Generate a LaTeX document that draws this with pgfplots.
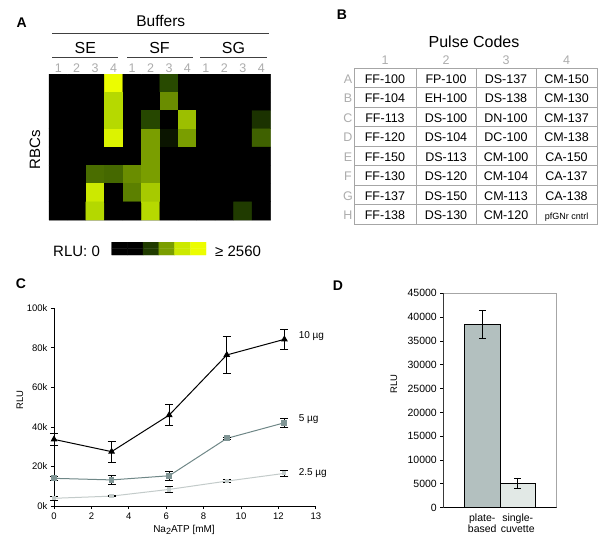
\documentclass[border=0pt]{standalone}
\usepackage{pgfplots}
\pgfplotsset{compat=1.18}
\usepackage{fontspec}
\setmainfont{Liberation Sans}
\newcommand{\fsz}[1]{\fontsize{#1bp}{#1bp}\selectfont}

\definecolor{lab}{HTML}{ACACAC}
\definecolor{tabline}{HTML}{A6A6A6}
\definecolor{ug5}{HTML}{6F8787}
\definecolor{ug5m}{HTML}{809595}
\definecolor{ug25}{HTML}{C3CBCA}
\definecolor{barA}{HTML}{B3C0BF}
\definecolor{barB}{HTML}{E2E9E6}

\pgfplotsset{
  colormap={rlu}{rgb255=(0,0,0) rgb255=(40,74,0) rgb255=(122,158,0) rgb255=(190,225,0) rgb255=(240,255,0)},
  /pgf/number format/assume math mode=true,
}

\begin{document}
\begin{tikzpicture}
\useasboundingbox (0,0) rectangle (600bp,-543bp);

%% ---------- panel A: heatmap ----------
\node[font=\bfseries\fsz{14}] at (21.7bp,-22.5bp) {A};
\node[font=\fsz{15.5}] at (160.8bp,-21bp) {Buffers};
\draw[black!75, line width=1bp] (52bp,-33bp) -- (269bp,-33bp);
\node[font=\fsz{16}] at (85.3bp,-48bp) {SE};
\node[font=\fsz{16}] at (159.5bp,-48bp) {SF};
\node[font=\fsz{16}] at (233.5bp,-48bp) {SG};
\draw[black!75, line width=1bp] (52bp,-57bp) -- (118bp,-57bp);
\draw[black!75, line width=1bp] (127bp,-57bp) -- (193bp,-57bp);
\draw[black!75, line width=1bp] (200bp,-57bp) -- (267bp,-57bp);
\node[rotate=90, font=\fsz{15}] at (35bp,-150bp) {RBCs};

\begin{axis}[at={(49bp,-74bp)}, anchor=north west, scale only axis,
  width=221.5bp, height=146bp,
  xmin=0.5, xmax=12.5, ymin=0.5, ymax=8.5,
  axis background/.style={fill=black},
  axis line style={draw=gray!55},
  ytick=\empty, xtick={1,...,12},
  xticklabels={1,2,3,4,1,2,3,4,1,2,3,4},
  xticklabel pos=top, major tick length=0pt,
  xticklabel style={font=\fsz{12.5}, text=lab, inner sep=1.5bp},
  colormap name=rlu, point meta min=0, point meta max=1]
\addplot[matrix plot*, mesh/cols=12, point meta=explicit, draw=none] coordinates {
(1,8)[0] (2,8)[0] (3,8)[0] (4,8)[0.98] (5,8)[0] (6,8)[0] (7,8)[0.25] (8,8)[0] (9,8)[0] (10,8)[0] (11,8)[0] (12,8)[0]
(1,7)[0] (2,7)[0] (3,7)[0] (4,7)[0.72] (5,7)[0] (6,7)[0] (7,7)[0.45] (8,7)[0] (9,7)[0] (10,7)[0] (11,7)[0] (12,7)[0]
(1,6)[0] (2,6)[0] (3,6)[0] (4,6)[0.72] (5,6)[0] (6,6)[0.24] (7,6)[0] (8,6)[0.625] (9,6)[0] (10,6)[0] (11,6)[0] (12,6)[0.17]
(1,5)[0] (2,5)[0] (3,5)[0] (4,5)[0.9] (5,5)[0] (6,5)[0.5] (7,5)[0.07] (8,5)[0.5] (9,5)[0] (10,5)[0] (11,5)[0] (12,5)[0.32]
(1,4)[0] (2,4)[0] (3,4)[0] (4,4)[0] (5,4)[0] (6,4)[0.5] (7,4)[0] (8,4)[0] (9,4)[0] (10,4)[0] (11,4)[0] (12,4)[0]
(1,3)[0] (2,3)[0] (3,3)[0.355] (4,3)[0.34] (5,3)[0.45] (6,3)[0.5] (7,3)[0] (8,3)[0] (9,3)[0] (10,3)[0] (11,3)[0] (12,3)[0]
(1,2)[0] (2,2)[0] (3,2)[0.82] (4,2)[0] (5,2)[0.41] (6,2)[0.665] (7,2)[0] (8,2)[0] (9,2)[0] (10,2)[0] (11,2)[0] (12,2)[0]
(1,1)[0] (2,1)[0] (3,1)[0.715] (4,1)[0] (5,1)[0] (6,1)[0.72] (7,1)[0] (8,1)[0] (9,1)[0] (10,1)[0] (11,1)[0.2] (12,1)[0]
};
\end{axis}

%% colour key
\node[anchor=base west, inner sep=0, font=\fsz{15}] at (53bp,-256bp) {RLU: 0};
\node[anchor=base west, inner sep=0, font=\fsz{15}] at (215bp,-256bp) {≥ 2560};
\begin{axis}[at={(111.7bp,-242bp)}, anchor=north west, scale only axis,
  width=94.3bp, height=13bp, xmin=0.5, xmax=6.5, ymin=0.5, ymax=2.5,
  hide axis, colormap name=rlu, point meta min=0, point meta max=1]
\addplot[matrix plot*, mesh/cols=6, point meta=explicit, draw=none] coordinates {
(1,1)[0] (2,1)[0] (3,1)[0.2] (4,1)[0.5] (5,1)[0.82] (6,1)[0.98]
(1,2)[0] (2,2)[0] (3,2)[0.2] (4,2)[0.5] (5,2)[0.82] (6,2)[0.98]
};
\end{axis}

%% ---------- panel B: pulse code table ----------
\node[font=\bfseries\fsz{14}] at (342bp,-14.7bp) {B};
\node[font=\fsz{16}] at (474bp,-42bp) {Pulse Codes};
\foreach \n/\x in {1/385,2/446,3/506,4/566.5}
  \node[text=lab, font=\fsz{12.5}] at (\x bp,-60.5bp) {\n};
\draw[tabline, line width=0.8bp] (354bp,-68bp) rectangle (597bp,-224bp);
\foreach \yy in {87.5,107,126.5,146,165.5,185,204.5}
  \draw[tabline, line width=0.8bp] (354bp,-\yy bp) -- (597bp,-\yy bp);
\foreach \xx in {416,476,536}
  \draw[tabline, line width=0.8bp] (\xx bp,-68bp) -- (\xx bp,-224bp);
\foreach \r/\a/\b/\c/\d [count=\i from 0] in {
  A/FF-100/FP-100/DS-137/CM-150,
  B/FF-104/EH-100/DS-138/CM-130,
  C/FF-113/DS-100/DN-100/CM-137,
  D/FF-120/DS-104/DC-100/CM-138,
  E/FF-150/DS-113/CM-100/CA-150,
  F/FF-130/DS-120/CM-104/CA-137,
  G/FF-137/DS-150/CM-113/CA-138,
  H/FF-138/DS-130/CM-120/{\fsz{9}pfGNr cntrl}}{
  \pgfmathsetmacro{\yb}{68+19.5*\i+9.75+5.5}
  \node[anchor=base, inner sep=0, text=lab, font=\fsz{12.5}] at (348bp,-\yb bp) {\r};
  \node[anchor=base, inner sep=0, font=\fsz{12.5}] at (385bp,-\yb bp) {\a};
  \node[anchor=base, inner sep=0, font=\fsz{12.5}] at (446bp,-\yb bp) {\b};
  \node[anchor=base, inner sep=0, font=\fsz{12.5}] at (506bp,-\yb bp) {\c};
  \node[anchor=base, inner sep=0, font=\fsz{12.5}] at (566.5bp,-\yb bp) {\d};
}

%% ---------- panel C: RLU vs Na2ATP ----------
\node[font=\bfseries\fsz{14}] at (21bp,-284bp) {C};
\node[font=\fsz{10}] at (184bp,-530bp) {Na\raisebox{-0.35ex}{\fsz{9}2}ATP [mM]};
\node[rotate=90, font=\fsz{9.5}] at (20bp,-400bp) {RLU};
\begin{axis}[at={(54bp,-506bp)}, anchor=south west, scale only axis,
  width=261.8bp, height=197.7bp,
  xmin=0, xmax=14, ymin=0, ymax=100000,
  axis x line*=bottom, axis y line*=left,
  axis line style={line width=0.9bp},
  xtick={0,2,...,14}, xticklabels={0,2,4,6,8,10,12,13},
  ytick={0,20000,...,100000}, yticklabels={0k,20k,40k,60k,80k,100k},
  scaled y ticks=false,
  tick align=outside, major tick length=3bp,
  tick style={line width=0.8bp, black},
  every tick label/.append style={font=\fsz{9.5}},
  clip=false,
  error bars/error bar style={black, line width=0.8bp},
  error bars/error mark options={rotate=90, black, line width=0.8bp, mark size=4bp}]
%% 2.5 ug
\addplot[ug25, line width=1bp, mark=square*, mark size=1.6bp,
  mark options={fill=ug25, draw=ug25},
  error bars/.cd, y dir=both, y explicit] coordinates {
  (0,3900) +- (0,1000)
  (3.08,5000) +- (0,300)
  (6.16,8400) +- (0,1400)
  (9.24,12600) +- (0,800)
  (12.32,16500) +- (0,1400)
};
%% 5 ug
\addplot[ug5, line width=1bp, mark=square*, mark size=2.4bp,
  mark options={fill=ug5m, draw=ug5m},
  error bars/.cd, y dir=both, y explicit] coordinates {
  (0,14000) +- (0,1200)
  (3.08,13200) +- (0,2200)
  (6.16,15300) +- (0,2300)
  (9.24,34200) +- (0,600)
  (12.32,42100) +- (0,2100)
};
%% 10 ug
\addplot[black, line width=1bp, mark=triangle*, mark size=3bp,
  error bars/.cd, y dir=both, y explicit] coordinates {
  (0,33700) +- (0,2800)
  (3.08,27500) +- (0,5200)
  (6.16,46000) +- (0,5300)
  (9.24,76400) +- (0,9500)
  (12.32,84300) +- (0,4900)
};
\node[anchor=west, font=\fsz{10}] at (axis cs:12.9,86000) {10 µg};
\node[anchor=west, font=\fsz{10}] at (axis cs:12.9,44000) {5 µg};
\node[anchor=west, font=\fsz{10}] at (axis cs:12.9,16700) {2.5 µg};
\end{axis}

%% ---------- panel D: plate vs cuvette ----------
\node[font=\bfseries\fsz{14}] at (338bp,-285.5bp) {D};
\node[rotate=90, font=\fsz{9.5}] at (394bp,-384bp) {RLU};
\begin{axis}[at={(443.3bp,-507.7bp)}, anchor=south west, scale only axis,
  width=113.4bp, height=214.4bp,
  xmin=-0.1, xmax=3.1, ymin=0, ymax=45000,
  axis line style={draw=gray!70, line width=0.9bp},
  xtick={1,2}, xticklabels={{plate-\\based},{single-\\cuvette}},
  x tick label style={align=center, font=\fontsize{10.5bp}{11bp}\selectfont},
  major x tick style={draw=none},
  ytick={0,5000,...,45000}, scaled y ticks=false,
  y tick label style={/pgf/number format/1000 sep={}, font=\fsz{10.5}},
  tick pos=left, tick align=outside, major tick length=3bp,
  major y tick style={black, line width=0.8bp},
  error bars/error bar style={black, line width=0.7bp},
  error bars/error mark options={rotate=90, black, line width=0.7bp, mark size=3.5bp}]
\addplot[ybar, bar width=1, bar shift=0pt, fill=barA, draw=black, line width=0.8bp,
  error bars/.cd, y dir=both, y explicit] coordinates {(1,38500) +- (0,2900)};
\addplot[ybar, bar width=1, bar shift=0pt, fill=barB, draw=black, line width=0.8bp,
  error bars/.cd, y dir=both, y explicit] coordinates {(2,5200) +- (0,1050)};
\draw[black, line width=0.9bp] (rel axis cs:0,1) -- (rel axis cs:0,0) -- (rel axis cs:1,0);
\end{axis}
\end{tikzpicture}
\end{document}
